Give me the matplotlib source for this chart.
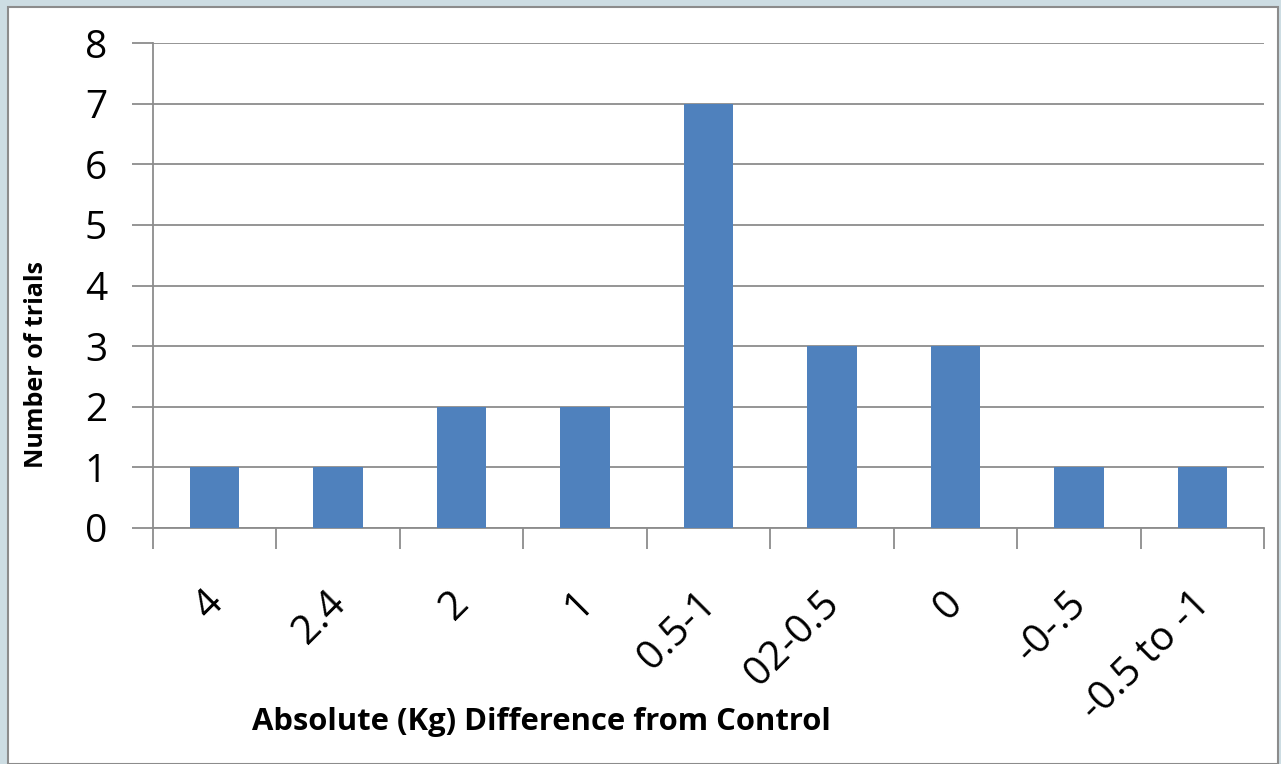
import matplotlib
matplotlib.use('Agg')
import matplotlib.pyplot as plt
from matplotlib.patches import Rectangle

categories = ['4', '2.4', '2', '1', '0.5-1', '02-0.5', '0', '-0-.5', '-0.5 to -1']
trials = [1, 1, 2, 2, 7, 3, 3, 1, 1]
yticks = [0, 1, 2, 3, 4, 5, 6, 7, 8]

plt.rcParams['font.family'] = ['Open Sans', 'DejaVu Sans']

W, H = 1281, 764
fig = plt.figure(figsize=(W / 100, H / 100), dpi=100)
fig.patch.set_facecolor('#cddde3')

# white chart panel with grey border
fig.patches.append(Rectangle((8 / W, 0), 1270 / W, 757 / H, transform=fig.transFigure,
                             facecolor='white', edgecolor='#8c8c8c', linewidth=1.5, zorder=0))

ax = fig.add_axes([153 / W, (H - 528) / H, (1264 - 153) / W, (528 - 43) / H])
ax.set_zorder(2)
ax.set_facecolor('white')

x = list(range(len(categories)))
ax.bar(x, trials, width=0.4, color='#4f81bd', zorder=3)

ax.set_xlim(-0.5, len(categories) - 0.5)
ax.set_ylim(0, 8)
ax.set_yticks(yticks)
ax.set_yticklabels([str(v) for v in yticks], fontsize=28)
ax.grid(axis='y', color='#8c8c8c', linewidth=1.3, zorder=0)
ax.set_axisbelow(True)

# category boundaries carry the tick marks; labels sit on (slightly shifted) minor ticks
ax.set_xticks([i - 0.5 for i in range(len(categories) + 1)], minor=False)
ax.set_xticklabels([])
ax.set_xticks([i - 0.1 for i in x], minor=True)
ax.set_xticklabels(categories, minor=True, rotation=45, ha='right', va='top',
                   rotation_mode='anchor', fontsize=29)
ax.tick_params(axis='x', which='major', length=15, color='#8c8c8c', width=1.3)
ax.tick_params(axis='x', which='minor', length=0, pad=40)
ax.tick_params(axis='y', length=15, color='#8c8c8c', width=1.3, pad=18)

for s in ['top', 'right']:
    ax.spines[s].set_visible(False)
for s in ['left', 'bottom']:
    ax.spines[s].set_color('#8c8c8c')
    ax.spines[s].set_linewidth(1.3)

fig.text(541 / W, 1 - 722 / H, 'Absolute (Kg) Difference from Control', fontsize=22.3,
         fontweight='bold', ha='center', va='center')
fig.text(37 / W, 1 - 365 / H, 'Number of trials', fontsize=18, fontweight='bold',
         rotation=90, ha='center', va='center')

fig.savefig('out.png', dpi=100, facecolor=fig.get_facecolor())
